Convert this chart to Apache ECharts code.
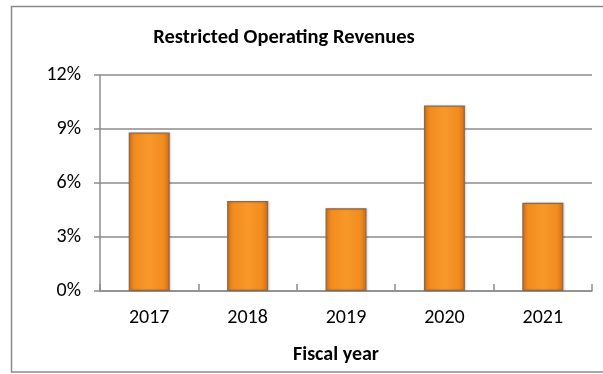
<!DOCTYPE html>
<html>
<head>
<meta charset="utf-8">
<script src="https://cdn.jsdelivr.net/npm/echarts@6/dist/echarts.min.js"></script>
<style>
  html, body { margin: 0; padding: 0; background: #fff; }
  #chart { width: 603px; height: 374px; }
</style>
</head>
<body>
<div id="chart"></div>
<script>
// Fiscal years and the share of operating revenues that was restricted (%)
const years = ['2017', '2018', '2019', '2020', '2021'];
const restrictedShare = [8.8, 5.0, 4.6, 10.3, 4.9];
const yTicks = [0, 3, 6, 9, 12];

const FONT = 'Carlito, Lato, "Open Sans", sans-serif';
const GRID_GREY = '#8c8c8c';

const barFill = new echarts.graphic.LinearGradient(0, 0, 1, 0, [
  { offset: 0, color: '#d9741a' },
  { offset: 0.15, color: '#f28c1f' },
  { offset: 0.5, color: '#f9982a' },
  { offset: 0.85, color: '#f28c1f' },
  { offset: 1, color: '#cf6c16' }
]);

const chart = echarts.init(document.getElementById('chart'), null, { renderer: 'canvas' });

chart.setOption({
  animation: false,
  backgroundColor: '#ffffff',
  title: {
    text: 'Restricted Operating Revenues',
    left: 279,
    top: 22,
    textAlign: 'center',
    textStyle: { fontFamily: FONT, fontWeight: 'bold', fontSize: 20.5, color: '#000' }
  },
  graphic: [{
    type: 'rect',
    shape: { x: 11.5, y: 6.5, width: 620, height: 365.5 },
    style: { fill: 'none', stroke: '#8a8a8a', lineWidth: 1.5 },
    silent: true,
    z: -1
  }],
  grid: { left: 100, right: 11, top: 75, bottom: 83, containLabel: false },
  xAxis: {
    type: 'category',
    data: years,
    boundaryGap: true,
    name: 'Fiscal year',
    nameLocation: 'middle',
    nameGap: 54,
    nameTextStyle: { fontFamily: FONT, fontWeight: 'bold', fontSize: 20, color: '#000', padding: [0, 20, 0, 0] },
    axisLine: { lineStyle: { color: GRID_GREY, width: 1.5 } },
    axisTick: { show: true, inside: true, length: 7, alignWithLabel: false, lineStyle: { color: GRID_GREY, width: 1.5 } },
    axisLabel: { fontFamily: FONT, fontSize: 20, color: '#000', margin: 17 }
  },
  yAxis: {
    type: 'value',
    min: yTicks[0],
    max: yTicks[yTicks.length - 1],
    interval: 3,
    axisLine: { show: true, lineStyle: { color: GRID_GREY, width: 1.5 } },
    axisTick: { show: true, inside: false, length: 6, lineStyle: { color: GRID_GREY, width: 1.5 } },
    axisLabel: { fontFamily: FONT, fontSize: 20, color: '#000', margin: 19, formatter: v => v + '%' },
    splitLine: { show: true, lineStyle: { color: GRID_GREY, width: 1.5 } }
  },
  series: [{
    type: 'bar',
    data: restrictedShare,
    barWidth: 41,
    itemStyle: {
      color: barFill,
      borderColor: '#8a6a4c',
      borderWidth: 1.2,
      shadowColor: 'rgba(0,0,0,0.15)',
      shadowBlur: 2,
      shadowOffsetX: 1
    }
  }]
});
</script>
</body>
</html>
